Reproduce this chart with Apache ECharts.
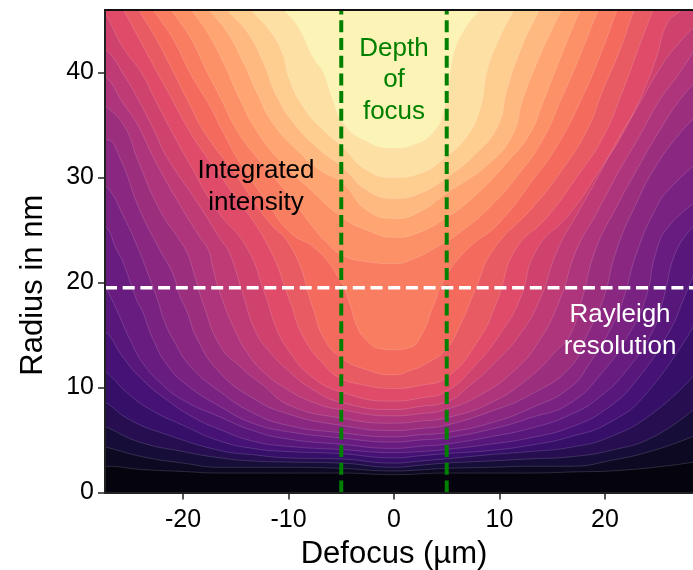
<!DOCTYPE html>
<html>
<head>
<meta charset="utf-8">
<style>html,body{margin:0;padding:0;background:#fff}#c{width:693px;height:570px}</style>
<script src="https://cdn.jsdelivr.net/npm/echarts@6/dist/echarts.min.js"></script>
</head>
<body>
<div id="c"></div>
<script>
var xTicks = [-20, -10, 0, 10, 20];
var yTicks = [0, 10, 20, 30, 40];
var depthOfFocus = [-5, 5];
var rayleighRadius = 19.5;

// Contour lines as [defocus, radius]; contour23 is the darkest level, contour01 the lightest.
var floorLevel = [[-27.5,0],[28.5,0]];
var contour23 = [[-27.5,2.5],[-27.2,2.5],[-24.1,2.2],[-20.0,2.0],[-16.5,1.85],[-5.1,1.85],[0,1.7],[4.9,1.85],[12.9,1.85],[16.7,1.95],[21.4,2.1],[28.5,2.9]];
var contour22 = [[-27.5,4.4],[-27.2,4.3],[-23.8,3.4],[-20.0,2.8],[-16.5,2.4],[-13.4,2.4],[-10.1,2.4],[-5.1,2.3],[0,2.05],[2.5,2.15],[4.9,2.3],[9.1,2.4],[12.9,2.5],[16.7,2.5],[20.8,3.1],[24.6,4.0],[28.5,5.4]];
var contour21 = [[-27.5,6.3],[-27.2,6.2],[-24.1,4.8],[-20.0,3.9],[-16.5,3.3],[-13.4,3.0],[-10.1,2.9],[-5.1,2.8],[0,2.4],[2.5,2.6],[4.9,2.8],[9.1,3.0],[12.9,3.2],[16.7,3.4],[20.5,4.0],[24.6,5.3],[28.5,8.0]];
var contour20 = [[-27.5,8.6],[-27.2,8.5],[-25.0,6.9],[-21.5,5.5],[-16.5,4.0],[-13.4,3.6],[-10.1,3.3],[-5.1,3.2],[0,2.8],[2.5,3.0],[4.9,3.2],[9.1,3.6],[12.9,3.9],[16.7,4.3],[20.5,5.3],[24.6,7.6],[28.5,11.2]];
var contour19 = [[-27.5,11.5],[-27.2,11.4],[-25.3,9.5],[-23.1,7.9],[-20.0,6.4],[-16.5,4.9],[-13.4,4.2],[-10.1,3.9],[-5.1,3.7],[0,3.3],[2.5,3.5],[4.9,3.7],[9.1,4.0],[12.9,4.5],[16.7,5.3],[20.5,6.7],[24.0,9.5],[28.5,16.0]];
var contour18 = [[-27.5,15.3],[-27.2,15.2],[-25.7,12.9],[-23.8,10.7],[-21.5,8.8],[-19.1,7.2],[-16.5,6.0],[-13.4,4.9],[-10.1,4.4],[-5.1,4.1],[0,3.8],[2.5,3.9],[4.9,4.1],[9.1,4.6],[12.9,5.2],[16.7,6.2],[20.2,8.0],[23.0,10.7],[26.2,15.5],[27.4,18.3],[28.5,21.0]];
var contour17 = [[-27.5,19.9],[-27.1,19.1],[-26.3,17.4],[-25.0,14.5],[-23.8,12.3],[-22.2,10.5],[-20.0,8.8],[-16.5,7.2],[-13.4,5.9],[-10.1,5.1],[-5.1,4.6],[0,4.2],[2.5,4.4],[4.9,4.6],[9.1,5.3],[12.9,6.1],[16.7,7.4],[19.5,9.1],[22.1,11.7],[24.6,15.5],[25.5,18.3],[26.8,23.1],[28.5,25.4]];
var contour16 = [[-27.5,25.3],[-27.2,25.2],[-26.3,23.1],[-25.8,22.2],[-24.3,18.1],[-23.9,17.4],[-22.8,14.5],[-21.4,12.0],[-19.6,10.2],[-16.5,8.2],[-13.4,6.6],[-10.1,5.8],[-5.1,5.2],[0,4.8],[2.5,5.0],[4.9,5.2],[9.1,6.0],[12.9,7.1],[16.7,8.5],[19.8,11.5],[22.1,14.8],[23.8,18.3],[24.9,23.1],[26.0,25.3],[28.5,27.6]];
var contour15 = [[-27.5,29.2],[-27.2,29.1],[-25.5,26.0],[-24.2,23.1],[-23.2,20.5],[-22.4,18.3],[-21.8,16.4],[-20.9,14.5],[-19.3,12.0],[-16.5,9.6],[-13.4,7.6],[-10.1,6.4],[-5.1,5.7],[0,5.3],[2.5,5.5],[4.9,5.7],[9.1,6.6],[12.9,8.0],[16.7,10.0],[18.6,12.4],[20.7,15.9],[21.7,18.3],[23.1,23.1],[24.9,27.2],[26.0,28.8],[28.5,31.2]];
var contour14 = [[-27.5,33.6],[-27.2,33.6],[-26.0,31.9],[-24.1,26.9],[-22.2,23.1],[-21.0,20.9],[-20.3,18.7],[-19.7,17.4],[-18.6,14.5],[-16.5,11.4],[-13.4,9.0],[-10.1,7.5],[-5.1,6.4],[0,5.9],[2.5,6.1],[4.9,6.4],[9.1,7.7],[12.9,9.3],[16.7,11.9],[18.3,15.0],[19.8,18.3],[21.1,23.1],[23.0,27.6],[24.9,31.2],[27.1,34.2],[28.5,35.7]];
var contour13 = [[-27.5,36.8],[-27.2,36.7],[-25.5,34.8],[-24.3,31.7],[-22.2,26.9],[-20.3,24.0],[-19.6,22.8],[-19.0,21.0],[-18.1,18.0],[-16.5,14.0],[-14.6,12.0],[-12.4,10.2],[-9.9,8.3],[-5.1,7.1],[0,6.6],[2.5,6.8],[4.9,7.1],[9.1,8.5],[12.9,11.0],[15.3,13.4],[16.7,15.0],[17.8,18.3],[19.1,23.1],[21.1,27.2],[23.0,30.7],[25.2,34.5],[27.1,37.4],[28.5,39.0]];
var contour12 = [[-27.5,39.6],[-27.2,39.5],[-25.7,37.1],[-24.4,35.2],[-22.7,31.7],[-20.6,27.9],[-18.4,24.3],[-17.6,23.1],[-17.2,21.5],[-16.5,19.0],[-15.1,15.5],[-13.9,13.3],[-12.4,11.5],[-10.1,9.8],[-7.7,8.6],[-5.1,7.9],[0,7.3],[2.5,7.5],[4.9,7.9],[8.2,9.3],[11.5,11.7],[13.8,14.5],[15.7,18.3],[17.3,23.1],[19.2,26.6],[21.1,30.2],[23.3,34.0],[25.2,37.4],[27.1,40.0],[28.5,42.2]];
var contour11 = [[-27.5,42.2],[-27.2,42.1],[-25.5,39.6],[-24.4,37.7],[-22.9,34.8],[-21.5,31.9],[-18.7,27.7],[-16.5,24.2],[-15.6,22.8],[-14.3,18.8],[-13.2,15.5],[-11.8,13.4],[-9.9,11.5],[-7.7,9.8],[-5.1,8.6],[0,7.9],[2.5,8.2],[4.9,8.6],[7.2,10.2],[9.6,12.4],[11.9,15.0],[13.8,18.3],[15.5,23.1],[17.3,26.4],[19.2,29.8],[21.2,33.6],[23.3,37.1],[25.4,40.7],[27.1,42.9],[28.5,44.4]];
var contour10 = [[-27.5,45.6],[-27.2,45.3],[-25.7,42.4],[-23.9,39.9],[-22.8,37.7],[-21.5,35.2],[-19.6,31.7],[-16.8,26.9],[-14.0,23.4],[-12.2,18.8],[-11.1,15.5],[-9.9,13.4],[-8.0,11.2],[-5.1,9.6],[0,8.7],[2.5,9.0],[4.9,9.6],[7.7,12.1],[10.0,15.0],[11.9,18.3],[13.5,23.1],[16.7,26.6],[19.5,30.7],[21.7,34.2],[23.6,38.1],[24.9,41.5],[25.9,44.7],[27.1,45.8],[28.1,46.5]];
var contour09 = [[-26.1,46.5],[-25.7,46.0],[-24.7,44.2],[-23.1,41.2],[-21.4,38.1],[-20.0,35.5],[-18.7,33.3],[-15.5,28.8],[-12.0,23.6],[-9.9,18.3],[-8.6,14.8],[-6.4,11.9],[-5.1,10.9],[-3.2,10.3],[0,9.9],[2.5,10.2],[4.9,10.9],[8.0,14.5],[9.8,18.3],[11.5,23.1],[14.5,26.2],[17.3,30.0],[19.8,33.8],[21.7,38.3],[23.1,42.1],[24.5,45.8],[24.8,46.5]];
var contour08 = [[-24.5,46.5],[-24.1,45.8],[-22.5,43.1],[-21.0,40.2],[-19.6,37.4],[-17.9,34.2],[-15.1,30.4],[-12.2,26.2],[-9.6,23.1],[-7.7,17.6],[-6.7,14.8],[-5.1,12.9],[-2.6,11.7],[0,11.2],[1.5,11.6],[2.9,12.2],[4.9,13.6],[6.3,16.0],[7.7,19.3],[9.4,23.1],[13.2,27.2],[15.7,30.4],[18.3,34.5],[19.8,38.3],[21.4,42.1],[22.7,45.8],[23.0,46.5]];
var contour07 = [[-23.1,46.5],[-22.7,45.8],[-20.9,43.1],[-19.3,39.9],[-17.4,36.7],[-16.3,34.5],[-14.6,31.4],[-12.2,27.9],[-9.9,24.8],[-7.3,23.1],[-5.1,20.2],[-4.2,18.0],[-3.5,15.8],[-2.6,14.5],[-1.3,13.7],[0,13.6],[1.5,13.8],[2.7,15.2],[3.7,17.7],[4.9,20.5],[6.9,23.1],[10.0,25.7],[13.2,29.8],[15.4,32.9],[17.6,37.1],[19.5,41.5],[21.1,45.8],[21.4,46.5]];
var contour06 = [[-21.4,46.5],[-21.0,45.8],[-19.3,43.3],[-17.7,40.0],[-16.5,37.7],[-14.9,34.5],[-13.0,31.9],[-10.1,28.5],[-7.7,25.3],[-6.4,23.8],[-4.9,22.6],[-2.7,22.0],[0,21.8],[1.5,22.1],[4.1,23.4],[6.3,24.8],[9.1,27.2],[11.9,30.4],[14.1,33.6],[15.7,37.1],[17.6,41.5],[19.3,45.8],[19.7,46.5]];
var contour05 = [[-19.7,46.5],[-19.1,45.8],[-17.7,43.8],[-16.2,41.0],[-14.6,37.4],[-13.0,34.4],[-11.1,31.9],[-8.2,29.1],[-4.9,26.2],[-2.6,25.0],[0,24.3],[2.2,24.7],[5.0,26.2],[7.5,28.1],[10.7,31.4],[12.9,34.2],[14.1,37.1],[15.7,41.2],[17.6,45.8],[18.0,46.5]];
var contour04 = [[-18.0,46.5],[-17.4,45.8],[-15.8,43.8],[-14.3,41.0],[-13.0,38.1],[-11.5,35.2],[-9.2,32.6],[-7.0,30.7],[-4.9,29.5],[-2.6,26.9],[0,26.1],[2.2,26.6],[5.0,28.5],[9.1,31.4],[11.3,34.2],[12.2,37.4],[13.8,41.5],[15.8,45.8],[16.2,46.5]];
var contour03 = [[-16.3,46.5],[-15.7,45.8],[-13.9,43.8],[-12.4,41.0],[-11.1,37.7],[-9.2,34.8],[-7.0,32.6],[-4.9,31.0],[-2.6,28.8],[0,28.0],[2.5,28.5],[5.0,30.0],[7.5,32.0],[9.8,34.8],[10.7,38.3],[11.9,41.9],[13.7,45.8],[14.1,46.5]];
var contour02 = [[-13.8,46.5],[-13.4,45.8],[-11.8,44.0],[-10.6,41.9],[-9.9,39.3],[-8.6,36.7],[-7.0,34.8],[-4.9,32.9],[-2.6,30.7],[0,30.0],[2.5,30.4],[4.6,31.7],[6.9,33.9],[8.2,36.7],[8.8,40.0],[9.8,42.8],[11.3,45.8],[11.8,46.5]];
var contour01 = [[-11.0,46.5],[-10.3,45.8],[-9.0,44.2],[-7.7,41.5],[-6.7,40.0],[-5.8,37.4],[-4.8,35.2],[-2.9,33.6],[0,32.8],[1.8,33.1],[3.7,34.3],[4.8,36.7],[5.6,41.5],[6.5,43.8],[8.0,45.8],[8.7,46.5]];

var levels = [floorLevel, contour23, contour22, contour21, contour20, contour19, contour18, contour17, contour16, contour15, contour14, contour13, contour12, contour11, contour10, contour09, contour08, contour07, contour06, contour05, contour04, contour03, contour02, contour01];

var magmaStops = [[0,0,4],[20,14,54],[59,15,112],[100,26,128],[140,41,129],[183,55,121],[222,73,104],[247,112,92],[254,159,109],[254,207,146],[252,253,191]];
function bandColor(i, n) {
  var t = (i + 0.5) / n * 10, k = Math.min(9, Math.floor(t)), f = t - k, a = magmaStops[k], b = magmaStops[k + 1];
  return 'rgb(' + [0, 1, 2].map(function (j) { return Math.round(a[j] + (b[j] - a[j]) * f); }).join(',') + ')';
}

var FONT = '"Liberation Sans", Arial, sans-serif';
var series = levels.map(function (pts, i) {
  return {
    type: 'line', data: pts, showSymbol: false, symbol: 'none', smooth: 0.5, silent: true, clip: true,
    lineStyle: i === 0 ? { width: 0 } : { color: 'rgba(255,255,255,0.3)', width: 0.5 },
    areaStyle: { origin: 'end', color: bandColor(i, levels.length), opacity: 1 }
  };
});
depthOfFocus.forEach(function (x) {
  series.push({
    type: 'line', data: [[x, 0], [x, 45.95]], symbol: 'none', silent: true, z: 5,
    lineStyle: { color: '#008000', width: 4, type: [12, 5.7] }
  });
});
series.push({
  type: 'line', data: [[-27.4, rayleighRadius], [28.35, rayleighRadius]], symbol: 'none', silent: true, z: 6,
  lineStyle: { color: '#ffffff', width: 3.5, type: [12, 5.7] }
});

var chart = echarts.init(document.getElementById('c'), null, { renderer: 'canvas' });
chart.setOption({
  animation: false,
  backgroundColor: '#fff',
  grid: { left: 105, right: 0, top: 10, bottom: 77.5, outerBoundsMode: 'none' },
  xAxis: [{
    type: 'value', min: -27.4, max: 28.35, z: 10,
    name: 'Defocus (µm)', nameLocation: 'middle', nameGap: 46,
    nameTextStyle: { fontFamily: FONT, fontSize: 31, color: '#000', padding: [0, 10, 0, 0] },
    splitLine: { show: false },
    axisLine: { show: true, onZero: false, lineStyle: { color: '#222', width: 2 } },
    axisTick: { show: true, length: 7, lineStyle: { color: '#222', width: 1.5 }, customValues: xTicks },
    axisLabel: { fontFamily: FONT, fontSize: 25, color: '#000', margin: 15, customValues: xTicks }
  }, {
    type: 'value', min: -27.4, max: 28.35, position: 'top', z: 10,
    splitLine: { show: false },
    axisLine: { show: true, onZero: false, lineStyle: { color: '#111', width: 2 } },
    axisTick: { show: false }, axisLabel: { show: false }
  }],
  yAxis: {
    type: 'value', min: 0, max: 45.95, z: 10,
    name: 'Radius in nm', nameLocation: 'middle', nameGap: 56,
    nameTextStyle: { fontFamily: FONT, fontSize: 31, color: '#000', padding: [0, 68, 0, 0] },
    splitLine: { show: false },
    axisLine: { show: true, onZero: false, lineStyle: { color: '#222', width: 2 } },
    axisTick: { show: true, length: 7, lineStyle: { color: '#222', width: 1.5 }, customValues: yTicks },
    axisLabel: { fontFamily: FONT, fontSize: 25, color: '#000', margin: 11, padding: [5, 0, 0, 0], customValues: yTicks }
  },
  series: series,
  graphic: [
    { type: 'text', z: 20, style: { text: 'Depth\nof\nfocus', x: 394, y: 80, fill: '#008000', font: '26px ' + FONT, textAlign: 'center', textVerticalAlign: 'middle', lineHeight: 31.5 } },
    { type: 'text', z: 20, style: { text: 'Integrated\nintensity', x: 256, y: 187, fill: '#000', font: '26px ' + FONT, textAlign: 'center', textVerticalAlign: 'middle', lineHeight: 31.5 } },
    { type: 'text', z: 20, style: { text: 'Rayleigh\nresolution', x: 620, y: 331, fill: '#fff', font: '26px ' + FONT, textAlign: 'center', textVerticalAlign: 'middle', lineHeight: 31.5 } }
  ]
});
</script>
</body>
</html>
